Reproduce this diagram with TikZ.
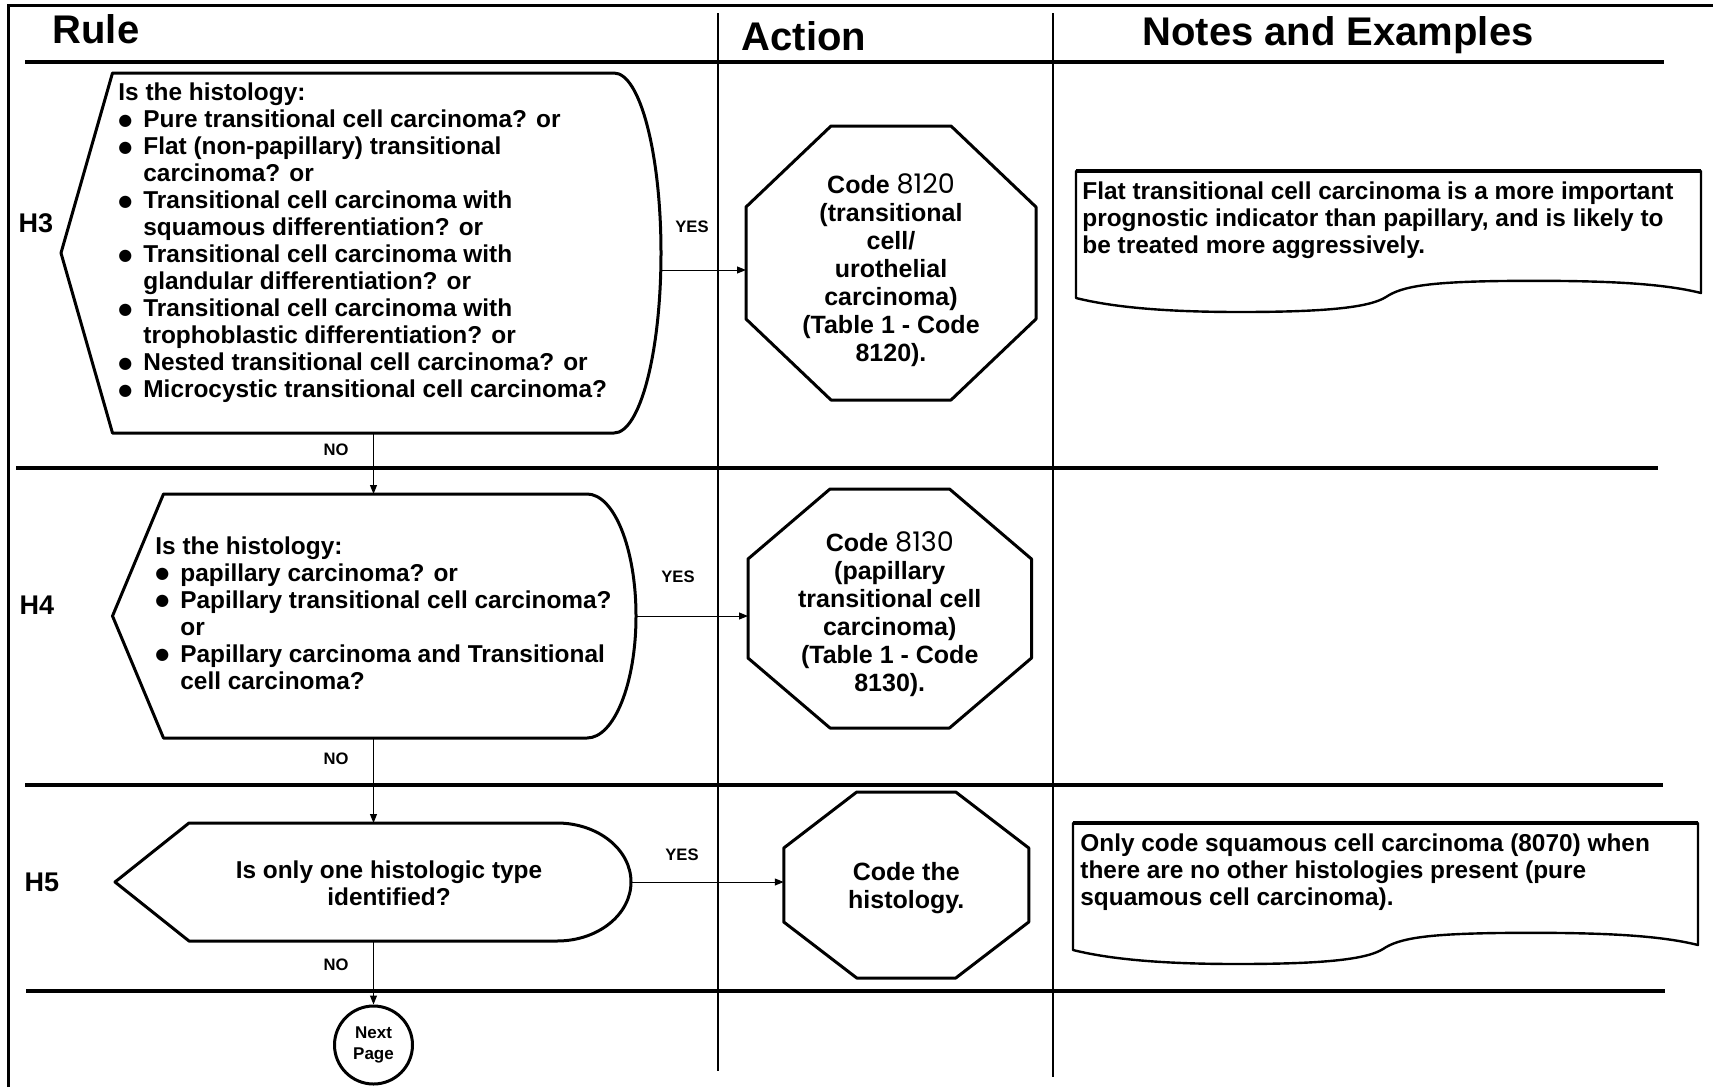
\documentclass[tikz,border=0pt]{standalone}
\usepackage{fontspec}
\setmainfont{Liberation Sans}
\newfontfamily\numfont{Poppins}
\newfontfamily\symfont{DejaVu Sans}
\usetikzlibrary{calc,arrows.meta}

% bullet and hanging indent for the question lists
\newcommand{\bul}{\makebox[12.5pt][l]{\raisebox{1.3pt}{\fontsize{8}{8}\selectfont\symfont ●}}}
\newcommand{\ind}{\hspace*{12.5pt}}
\newcommand{\codenum}[1]{{\numfont\mdseries\fontsize{13.5}{14}\selectfont #1}}

% octagon drawn round a named box: node, x chamfer, y chamfer (px)
\newcommand{\octedge}[3]{%
  \draw[shapeline] ($(#1.north west)+(#2,0)$) -- ($(#1.north east)+(-#2,0)$)
    -- ($(#1.north east)+(0,#3)$) -- ($(#1.south east)+(0,-#3)$)
    -- ($(#1.south east)+(-#2,0)$) -- ($(#1.south west)+(#2,0)$)
    -- ($(#1.south west)+(0,-#3)$) -- ($(#1.north west)+(0,#3)$) -- cycle;}

% decision (display) shape round a named box: node, point (px), bulge (px), bulge radii (pt)
\newcommand{\decedge}[5]{%
  \draw[shapeline] (#1.west) -- ($(#1.north west)+(#2,0)$) -- ($(#1.north east)+(-#3,0)$)
    arc[start angle=90, end angle=-90, x radius=#4, y radius=#5]
    -- ($(#1.south west)+(#2,0)$) -- cycle;}

\tikzset{
  shapeline/.style={line width=1.5pt, line join=round},
  rowline/.style={line width=2pt},
  colline/.style={line width=0.6pt},
  frameline/.style={line width=1.5pt},
  flow/.style={line width=0.5pt, -{Triangle[length=4.5pt,width=3.5pt]}},
  shapebox/.style={inner sep=0pt, outer sep=0pt},
  body/.style={font=\fontsize{12.2}{13.5}\selectfont\bfseries, inner sep=0pt, align=left},
  octtext/.style={font=\fontsize{12.5}{14}\selectfont\bfseries, inner sep=0pt, align=center},
  answer/.style={font=\fontsize{8.3}{10}\selectfont\bfseries, inner sep=0pt},
  rulelbl/.style={font=\fontsize{13.5}{15}\selectfont\bfseries, inner sep=0pt},
  head/.style={font=\fontsize{20}{24}\selectfont\bfseries, inner sep=0pt, anchor=base},
  notebox/.pic={
    \draw[line width=1.2pt, line join=round] (0,0) -- (625,0) -- (625,122)
      .. controls (585,112) and (525,109) .. (425,110)
      .. controls (355,111) and (326,115) .. (310,126)
      .. controls (294,136) and (254,141) .. (164,141)
      .. controls (104,141) and (44,138) .. (0,127) -- cycle;
    \draw[line width=2pt] (0,0) -- (625,0);
  }
}

\begin{document}
\begin{tikzpicture}[x=0.5pt, y=-0.5pt]
\useasboundingbox (0,0) rectangle (1713,1087);

% table
\draw[frameline] (8,1087) -- (8,5) -- (1713,5);
\draw[rowline] (25,62) -- (1664,62);
\draw[rowline] (16,468) -- (1658,468);
\draw[rowline] (25,785) -- (1663,785);
\draw[rowline] (26,991) -- (1665,991);
\draw[colline] (718,13) -- (718,1071);
\draw[colline] (1053,13) -- (1053,1077);

\node[head] (rulehd) at (96,43.5) {Rule};
\node[head] (acthd) at (804,50) {Action};
\node[head] (notehd) at (1338,45.5) {Notes and Examples};

\node[rulelbl] (h3) at (36,223) {H3};
\node[rulelbl] (h4) at (37,605) {H4};
\node[rulelbl] (h5) at (42,882) {H5};

% rules
\node[shapebox, minimum width=300pt, minimum height=180pt] (d1) at (361,253) {};
\decedge{d1}{51.5}{47}{23.5pt}{90pt}
\node[body, anchor=west] (q1) at (118,243) {Is the histology:\\
\bul Pure transitional cell carcinoma? or\\
\bul Flat (non-papillary) transitional\\
\ind carcinoma? or\\
\bul Transitional cell carcinoma with\\
\ind squamous differentiation? or\\
\bul Transitional cell carcinoma with\\
\ind glandular differentiation? or\\
\bul Transitional cell carcinoma with\\
\ind trophoblastic differentiation? or\\
\bul Nested transitional cell carcinoma? or\\
\bul Microcystic transitional cell carcinoma?};

\node[shapebox, minimum width=261.75pt, minimum height=122pt] (d2) at (374.25,616) {};
\decedge{d2}{51}{49}{24.5pt}{61pt}
\node[body, anchor=west] (q2) at (155,613) {Is the histology:\\
\bul papillary carcinoma? or\\
\bul Papillary transitional cell carcinoma?\\
\ind or\\
\bul Papillary carcinoma and Transitional\\
\ind cell carcinoma?};

\node[shapebox, minimum width=258pt, minimum height=59pt] (d3) at (373,882) {};
\decedge{d3}{74}{74}{37pt}{29.5pt}
\node[body, align=center] (q3) at (389,883) {Is only one histologic type\\identified?};

\node[draw, circle, line width=1.5pt, minimum size=39pt, inner sep=0pt,
  font=\fontsize{8.5}{10.5}\selectfont\bfseries, align=center] (nxt) at (373.5,1045) {Next\\Page};

% actions
\node[shapebox, minimum width=145pt, minimum height=137pt] (a1) at (891,263) {};
\octedge{a1}{85}{81}
\node[octtext] (c1) at (891,270)
  {Code \codenum{8120}\\(transitional\\cell/\\urothelial\\carcinoma)\\(Table 1 - Code\\8120).};
\node[shapebox, minimum width=141.75pt, minimum height=119.5pt] (a2) at (889.75,608.5) {};
\octedge{a2}{82}{70}
\node[octtext] (c2) at (889.75,614.5)
  {Code \codenum{8130}\\(papillary\\transitional cell\\carcinoma)\\(Table 1 - Code\\8130).};
\node[shapebox, minimum width=122.5pt, minimum height=93pt] (a3) at (906.25,885) {};
\octedge{a3}{73}{56}
\node[octtext] (c3) at (906.25,888) {Code the\\histology.};

% connectors
\coordinate (y1) at ([yshift=-3.5pt]a1.west);
\draw[flow] (d1.south -| nxt) -- (d2.north -| nxt);
\draw[flow] (d2.south -| nxt) -- (d3.north -| nxt);
\draw[flow] (d3.south -| nxt) -- (nxt.north);
\draw[flow] (y1 -| d1.east) -- (y1);
\draw[flow] (d2.east) -- (d2.east -| a2.west);
\draw[flow] (d3.east) -- (d3.east -| a3.west);

\node[answer] (yes1) at (692,227) {YES};
\node[answer] (yes2) at (678,577) {YES};
\node[answer] (yes3) at (682,855) {YES};
\node[answer] (no1) at (336,450) {NO};
\node[answer] (no2) at (336,759) {NO};
\node[answer] (no3) at (336,965) {NO};

% notes
\pic at (1076,171) {notebox};
\node[body, anchor=west] (note1) at (1082,220) {Flat transitional cell carcinoma is a more important\\
prognostic indicator than papillary, and is likely to\\
be treated more aggressively.};
\pic at (1073,823) {notebox};
\node[body, anchor=west] (note2) at (1080,872) {Only code squamous cell carcinoma (8070) when\\
there are no other histologies present (pure\\
squamous cell carcinoma).};
\end{tikzpicture}
\end{document}
